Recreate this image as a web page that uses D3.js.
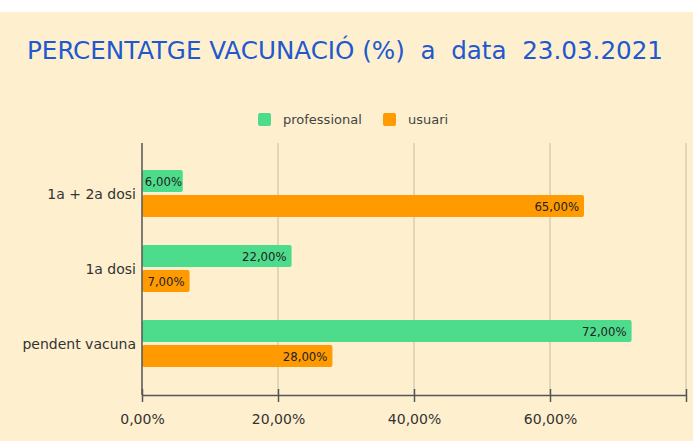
<!DOCTYPE html>
<html>
<head>
<meta charset="utf-8">
<script src="https://cdn.jsdelivr.net/npm/d3@7"></script>
<style>
  body { margin: 0; background: #fff; }
  svg { display: block; }
</style>
</head>
<body>
<script>
// valors llegits del grafic
var categories = ['1a + 2a dosi', '1a dosi', 'pendent vacuna'];
var series = ['professional', 'usuari'];
var professional = [6, 22, 72];
var usuari = [65, 7, 28];
var ticks = [0, 20, 40, 60, 80];
var tickLabels = ['0,00%', '20,00%', '40,00%', '60,00%', ''];

var W = 693, H = 441;
var colors = {professional: '#4ddc8c', usuari: '#ff9a00'};
var font = '"DejaVu Sans", Verdana, sans-serif';

var svg = d3.select('body').append('svg').attr('width', W).attr('height', H);

svg.append('rect').attr('x', 0).attr('y', 12).attr('width', W).attr('height', H - 12)
    .attr('fill', '#fef0cf');

svg.append('text')
    .attr('x', 27).attr('y', 59)
    .attr('font-family', '"DejaVu Sans Condensed", "DejaVu Sans", sans-serif')
    .attr('font-size', 25)
    .attr('fill', '#2158d0')
    .attr('textLength', 636)
    .attr('lengthAdjust', 'spacingAndGlyphs')
    .attr('xml:space', 'preserve')
    .text('PERCENTATGE VACUNACIÓ (%)  a  data  23.03.2021');

// llegenda
var leg = svg.append('g');
var legX = [258, 383];
series.forEach(function (s, i) {
    leg.append('rect').attr('x', legX[i]).attr('y', 113).attr('width', 13).attr('height', 13)
        .attr('rx', 2).attr('fill', colors[s]);
    leg.append('text').attr('x', legX[i] + 25).attr('y', 124)
        .attr('font-family', font).attr('font-size', 13).attr('fill', '#444').text(s);
});

var x = d3.scaleLinear().domain([0, 80]).range([142, 686]);
var y = d3.scaleBand().domain(categories).range([156, 381]).paddingInner(0).paddingOuter(0);
var plotTop = 143, plotBottom = 395;

// linies de graella
svg.append('g').selectAll('line').data(ticks.slice(1)).join('line')
    .attr('x1', function (d) { return x(d); }).attr('x2', function (d) { return x(d); })
    .attr('y1', plotTop).attr('y2', plotBottom)
    .attr('stroke', '#d9cdb1').attr('stroke-width', 1.5);

var barH = 22, gap = 3;
var rows = categories.map(function (c, i) {
    return [{cat: c, s: 'professional', v: professional[i], k: 0},
            {cat: c, s: 'usuari', v: usuari[i], k: 1}];
}).flat();

function barY(d) {
    return y(d.cat) + y.bandwidth() / 2 - barH - gap / 2 + d.k * (barH + gap);
}

var bars = svg.append('g');
bars.selectAll('rect').data(rows).join('rect')
    .attr('x', x(0))
    .attr('y', barY)
    .attr('width', function (d) { return x(d.v) - x(0); })
    .attr('height', barH)
    .attr('rx', 2)
    .attr('fill', function (d) { return colors[d.s]; });

bars.selectAll('text').data(rows).join('text')
    .attr('x', function (d) { return Math.max(x(d.v) - 5, x(0) + 40); })
    .attr('y', function (d) { return barY(d) + barH / 2 + 4.5; })
    .attr('text-anchor', 'end')
    .attr('font-family', '"DejaVu Sans Condensed", "DejaVu Sans", sans-serif')
    .attr('font-size', 13).attr('fill', '#222')
    .text(function (d) { return d3.format('.2f')(d.v).replace('.', ',') + '%'; });

// eix vertical
svg.append('line').attr('x1', x(0)).attr('x2', x(0)).attr('y1', plotTop).attr('y2', plotBottom)
    .attr('stroke', '#555').attr('stroke-width', 1.5);

// etiquetes de categoria
svg.append('g').selectAll('text').data(categories).join('text')
    .attr('x', 136).attr('y', function (d) { return y(d) + y.bandwidth() / 2 + 5; })
    .attr('text-anchor', 'end')
    .attr('font-family', font).attr('font-size', 14).attr('fill', '#333')
    .text(function (d) { return d; });

// eix horitzontal
var xAxis = d3.axisBottom(x).tickValues(ticks)
    .tickFormat(function (d, i) { return tickLabels[i]; })
    .tickSize(7).tickSizeOuter(0).tickPadding(12);
var gx = svg.append('g').attr('transform', 'translate(0,' + plotBottom + ')').call(xAxis);
gx.select('.domain').attr('stroke', '#555').attr('stroke-width', 1.5);
gx.selectAll('.tick line').attr('stroke', '#555').attr('stroke-width', 1.5).attr('y1', -6);
gx.selectAll('.tick text').attr('font-family', font).attr('font-size', 14).attr('fill', '#333');
</script>
</body>
</html>
